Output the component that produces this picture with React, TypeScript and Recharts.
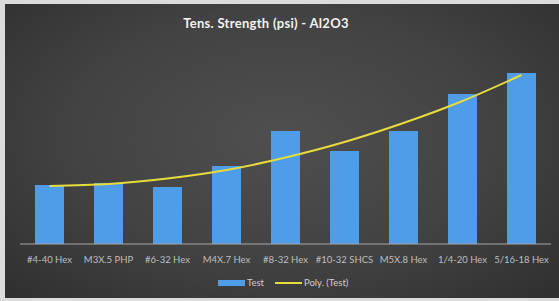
import React from "react";
import { ComposedChart, Bar, Line, XAxis, YAxis } from "recharts";

const categories = [
  "#4-40 Hex",
  "M3X.5 PHP",
  "#6-32 Hex",
  "M4X.7 Hex",
  "#8-32 Hex",
  "#10-32 SHCS",
  "M5X.8 Hex",
  "1/4-20 Hex",
  "5/16-18 Hex",
];
const testValues = [590, 610, 570, 780, 1130, 930, 1130, 1500, 1710];
const polyValues = [580, 600, 655, 740, 865, 1020, 1210, 1430, 1690];
const seriesNames = ["Test", "Poly. (Test)"];

const data = categories.map((name, i) => ({
  name,
  test: testValues[i],
  poly: polyValues[i],
}));

const FONT = "Lato, 'Open Sans', sans-serif";

export default function App() {
  return (
    <div
      style={{
        position: "absolute",
        left: 0,
        top: 0,
        width: 559,
        height: 301,
        background: "#dcdcdc",
        overflow: "hidden",
      }}
    >
      <div
        style={{
          position: "absolute",
          left: 5,
          top: 4,
          width: 554,
          height: 294,
          background:
            "radial-gradient(ellipse at 50% 45%, #4f4f4f 0%, #424242 55%, #2f2f2f 100%)",
        }}
      />
      <div
        style={{
          position: "absolute",
          left: 66,
          width: 400,
          top: 14,
          textAlign: "center",
          fontFamily: FONT,
          fontWeight: 700,
          fontSize: 13,
          letterSpacing: 0.3,
          color: "#f2f2f2",
          lineHeight: "18px",
        }}
      >
        Tens. Strength (psi) - Al2O3
      </div>
      <div style={{ position: "absolute", left: 0, top: 0 }}>
        <ComposedChart
          width={559}
          height={301}
          data={data}
          margin={{ top: 60, right: 8, left: 20, bottom: 35 }}
        >
          <XAxis
            dataKey="name"
            axisLine={{ stroke: "#a6a6a6", strokeWidth: 1 }}
            tickLine={false}
            interval={0}
            height={22}
            tick={{ fill: "#bfbfbf", fontSize: 9.5, fontFamily: FONT }}
            tickMargin={6}
          />
          <YAxis hide domain={[0, 1840]} />
          <Bar dataKey="test" name={seriesNames[0]} fill="#4f9de9" barSize={29} isAnimationActive={false} />
          <Line
            dataKey="poly"
            name={seriesNames[1]}
            type="natural"
            stroke="#e6dc3c"
            strokeWidth={2}
            dot={false}
            isAnimationActive={false}
          />
        </ComposedChart>
      </div>
      <div
        style={{
          position: "absolute",
          left: 0,
          top: 276,
          width: 559,
          height: 14,
          fontFamily: FONT,
          fontSize: 9.5,
          color: "#d0d0d0",
        }}
      >
        <div style={{ position: "absolute", left: 218, top: 4, width: 27, height: 6, background: "#4f9de9" }} />
        <span style={{ position: "absolute", left: 247, top: 0, lineHeight: "14px" }}>{seriesNames[0]}</span>
        <div style={{ position: "absolute", left: 275, top: 6, width: 27, height: 2, background: "#e6dc3c" }} />
        <span style={{ position: "absolute", left: 304, top: 0, lineHeight: "14px" }}>{seriesNames[1]}</span>
      </div>
    </div>
  );
}
